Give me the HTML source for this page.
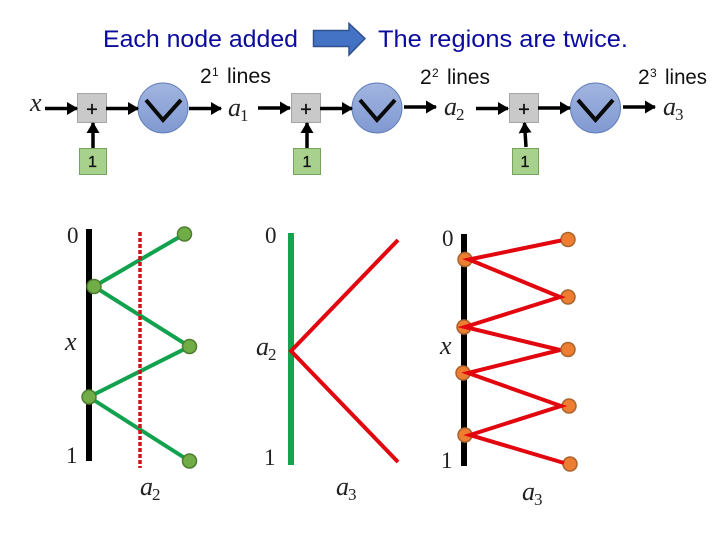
<!DOCTYPE html>
<html><head><meta charset="utf-8">
<style>
html,body{margin:0;padding:0;background:#fff}
svg{display:block}
.t{font-family:"Liberation Sans",sans-serif;font-size:24.500px;fill:#0b0b9e}
.l{font-family:"Liberation Sans",sans-serif;font-size:21px;fill:#111}
.s{font-family:"Liberation Sans",sans-serif;font-size:12px;fill:#111}
.m{font-family:"Liberation Serif",serif;font-style:italic;font-size:26px;fill:#222}
.sb{font-family:"Liberation Serif",serif;font-size:17px;fill:#222}
.n{font-family:"Liberation Serif",serif;font-size:23px;fill:#222}
.b{font-family:"Liberation Sans",sans-serif;font-size:16px;fill:#111;stroke:#111;stroke-width:.35;text-anchor:middle}
.p{font-family:"Liberation Sans",sans-serif;font-size:20px;fill:#111;stroke:#111;stroke-width:.3;text-anchor:middle}
</style></head><body>
<svg width="720" height="540" viewBox="0 0 720 540" xmlns="http://www.w3.org/2000/svg">
<defs>
<linearGradient id="c" x1="0" y1="0" x2="0" y2="1"><stop offset="0" stop-color="#a2b5e0"/><stop offset="1" stop-color="#8099d2"/></linearGradient>
<marker id="a" markerUnits="userSpaceOnUse" markerWidth="11" markerHeight="13" refX="10" refY="6.500" orient="auto"><path d="M0 0L11 6.500L0 13z" fill="#000"/></marker>
</defs>
<rect width="720" height="540" fill="#fff"/>

<text class="t" x="103" y="47" textLength="195" lengthAdjust="spacingAndGlyphs">Each node added</text>
<text class="t" x="378" y="47" textLength="250" lengthAdjust="spacingAndGlyphs">The regions are twice.</text>
<path d="M313.500 30.500H349V23.500L365 38.500L349 55V46.500H313.500z" fill="#4472c4" stroke="#2f528f" stroke-width="1.500"/>

<text class="l" x="200" y="83">2</text><text class="s" x="212" y="76">1</text><text class="l" x="227" y="83" textLength="44" lengthAdjust="spacingAndGlyphs">lines</text>
<text class="l" x="420" y="84">2</text><text class="s" x="432" y="77">2</text><text class="l" x="447" y="84" textLength="43" lengthAdjust="spacingAndGlyphs">lines</text>
<text class="l" x="638" y="84">2</text><text class="s" x="650" y="77">3</text><text class="l" x="665" y="84" textLength="42" lengthAdjust="spacingAndGlyphs">lines</text>

<g fill="#c9c9c9" stroke="#a5a5a5" stroke-width="1">
<rect x="77.500" y="93.500" width="29" height="29"/>
<rect x="291.500" y="93.500" width="29" height="29"/>
<rect x="509.500" y="93.500" width="29" height="29"/>
</g>
<g fill="#a9d18e" stroke="#74a35d" stroke-width="1">
<rect x="79.500" y="148.500" width="27" height="26"/>
<rect x="293.500" y="148.500" width="27" height="26"/>
<rect x="512.500" y="148.500" width="26" height="26"/>
</g>
<text class="p" x="92" y="116">+</text><text class="p" x="306" y="116">+</text><text class="p" x="524" y="116">+</text>
<text class="b" x="92.500" y="167">1</text><text class="b" x="307" y="167">1</text><text class="b" x="525" y="167">1</text>

<g fill="url(#c)" stroke="#5f7cb8" stroke-width="1">
<circle cx="163" cy="108" r="25"/><circle cx="377" cy="108" r="25"/><circle cx="595.500" cy="108" r="25"/>
</g>
<g fill="none" stroke="#0a0a0a" stroke-width="4">
<path d="M146 100L163 120L181 100"/><path d="M360 100L377 120L395 100"/><path d="M578 100L595.500 120L613 100"/>
</g>

<g stroke="#000" stroke-width="3.500" fill="none">
<path d="M45 108.500H77" marker-end="url(#a)"/>
<path d="M106 108.500H138" marker-end="url(#a)"/>
<path d="M189 108.500H221" marker-end="url(#a)"/>
<path d="M258 108H290" marker-end="url(#a)"/>
<path d="M320 108.500H352" marker-end="url(#a)"/>
<path d="M404 107H436" marker-end="url(#a)"/>
<path d="M476 108.500H508" marker-end="url(#a)"/>
<path d="M538 108H570" marker-end="url(#a)"/>
<path d="M623 107H655" marker-end="url(#a)"/>
<path d="M93 148V123" marker-end="url(#a)"/>
<path d="M307 148V123" marker-end="url(#a)"/>
<path d="M526 147L524.500 123" marker-end="url(#a)"/>
</g>

<text class="m" x="30" y="111">x</text>
<text class="m" x="228" y="116">a</text><text class="sb" x="240" y="121">1</text>
<text class="m" x="444" y="115">a</text><text class="sb" x="456" y="120">2</text>
<text class="m" x="663" y="115">a</text><text class="sb" x="675" y="120">3</text>

<!-- panel 1 -->
<rect x="86" y="229" width="6" height="232" fill="#000"/>
<path d="M184.500 234L94 286.500L189.500 346.500L89 397L189.500 461" fill="none" stroke="#12a24e" stroke-width="4"/>
<path d="M140 232V468" stroke="#d0121b" stroke-width="3.500" stroke-dasharray="4 2" fill="none"/>
<g fill="#70ad47" stroke="#4e7d30" stroke-width="1.500">
<circle cx="184.500" cy="234" r="7"/><circle cx="94" cy="286.500" r="7"/><circle cx="189.500" cy="346.500" r="7"/><circle cx="89" cy="397" r="7"/><circle cx="189.500" cy="461" r="7"/>
</g>
<text class="n" x="67" y="243">0</text>
<text class="m" x="65" y="350">x</text>
<text class="n" x="66" y="463">1</text>
<text class="m" x="140" y="495">a</text><text class="sb" x="152" y="500">2</text>

<!-- panel 2 -->
<rect x="288" y="233" width="6" height="232" fill="#12a550"/>
<path d="M398 240L291 351L398 462" fill="none" stroke="#e2060e" stroke-width="4"/>
<text class="n" x="265" y="243">0</text>
<text class="m" x="256" y="355">a</text><text class="sb" x="268" y="360">2</text>
<text class="n" x="264" y="465">1</text>
<text class="m" x="336" y="495">a</text><text class="sb" x="348" y="500">3</text>

<!-- panel 3 -->
<rect x="461" y="234" width="6" height="232" fill="#000"/>
<g fill="#ed7d31" stroke="#a9652e" stroke-width="1.500">
<circle cx="568" cy="239.500" r="7"/><circle cx="568" cy="297" r="7"/><circle cx="568" cy="349.500" r="7"/><circle cx="569" cy="406" r="7"/><circle cx="570" cy="464" r="7"/>
<circle cx="465" cy="259.500" r="7"/><circle cx="464" cy="327" r="7"/><circle cx="463" cy="373" r="7"/><circle cx="465" cy="435" r="7"/>
</g>
<path d="M561 240.500L469 259.500L560 297L465 327L560 350L468 373L561 406L470 435L564 463" fill="none" stroke="#e2060e" stroke-width="4"/>
<text class="n" x="442" y="246">0</text>
<text class="m" x="440" y="354">x</text>
<text class="n" x="441" y="468">1</text>
<text class="m" x="522" y="500">a</text><text class="sb" x="534" y="505">3</text>
</svg>
</body></html>
